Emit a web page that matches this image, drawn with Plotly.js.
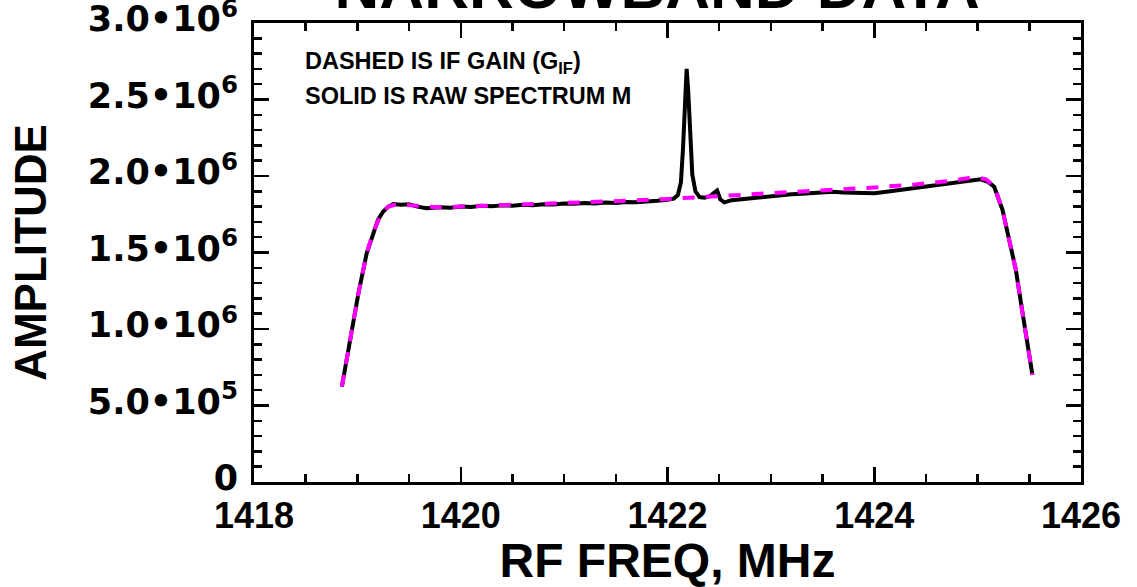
<!DOCTYPE html>
<html>
<head>
<meta charset="utf-8">
<script src="https://cdn.plot.ly/plotly-3.0.1.min.js"></script>
<style>html,body{margin:0;padding:0;background:#fff;}#chart{width:1137px;height:587px;}</style>
</head>
<body>
<div id="chart"></div>
<script>
// Raw spectrum M (solid black)
const freqM = [1418.85, 1418.93, 1419.01, 1419.09, 1419.15, 1419.20, 1419.25, 1419.30, 1419.35, 1419.42,
  1419.50, 1419.58, 1419.67, 1419.80, 1419.90, 1420.00, 1420.10, 1420.20, 1420.30, 1420.40, 1420.50,
  1420.60, 1420.70, 1420.80, 1420.90, 1421.00, 1421.10, 1421.20, 1421.30, 1421.40, 1421.50, 1421.60,
  1421.70, 1421.80, 1421.90, 1422.00, 1422.06, 1422.10, 1422.13, 1422.15, 1422.17, 1422.185, 1422.20,
  1422.22, 1422.24, 1422.27, 1422.31, 1422.36, 1422.41, 1422.45, 1422.48, 1422.51, 1422.55, 1422.62,
  1422.70, 1422.80, 1422.90, 1423.00, 1423.10, 1423.20, 1423.30, 1423.40, 1423.50, 1423.60, 1423.70,
  1423.80, 1423.90, 1424.00, 1424.10, 1424.20, 1424.30, 1424.40, 1424.50, 1424.60, 1424.70, 1424.80,
  1424.90, 1424.96, 1425.03, 1425.10, 1425.16, 1425.24, 1425.30, 1425.37, 1425.43, 1425.53];
const rawM = [623000, 928000, 1233000, 1495000, 1625000, 1715000, 1768000, 1800000, 1817000, 1812000,
  1815000, 1800000, 1790000, 1795000, 1792000, 1800000, 1797000, 1805000, 1803000, 1808000, 1806000,
  1812000, 1809000, 1816000, 1814000, 1820000, 1818000, 1824000, 1821000, 1826000, 1823000, 1830000,
  1828000, 1836000, 1838000, 1845000, 1852000, 1875000, 1960000, 2180000, 2520000, 2700000, 2560000,
  2230000, 2010000, 1900000, 1862000, 1858000, 1868000, 1890000, 1905000, 1848000, 1828000, 1842000,
  1848000, 1856000, 1862000, 1870000, 1874000, 1880000, 1884000, 1888000, 1893000, 1897000, 1892000,
  1889000, 1887000, 1888000, 1896000, 1905000, 1912000, 1920000, 1930000, 1940000, 1950000, 1958000,
  1968000, 1972000, 1978000, 1962000, 1930000, 1780000, 1600000, 1386000, 1124000, 700000];

// IF gain G_IF (dashed magenta)
const freqG = [1418.85, 1418.93, 1419.01, 1419.09, 1419.15, 1419.23, 1419.30, 1419.38, 1419.50, 1419.65,
  1419.80, 1420.00, 1420.40, 1420.80, 1421.20, 1421.60, 1422.00, 1422.40, 1422.80, 1423.20, 1423.60,
  1424.00, 1424.40, 1424.70, 1424.90, 1425.00, 1425.08, 1425.16, 1425.24, 1425.30, 1425.37, 1425.43, 1425.53];
const gainG = [623000, 928000, 1233000, 1495000, 1625000, 1756000, 1800000, 1815000, 1808000, 1798000,
  1795000, 1800000, 1808000, 1818000, 1828000, 1838000, 1850000, 1864000, 1880000, 1895000, 1910000,
  1925000, 1945000, 1965000, 1985000, 1990000, 1978000, 1935000, 1780000, 1600000, 1386000, 1124000, 700000];

const yTickVals = [0, 500000, 1000000, 1500000, 2000000, 2500000, 3000000];
const yTickText = ["0", "5.0•10<sup>5</sup>", "1.0•10<sup>6</sup>", "1.5•10<sup>6</sup>",
  "2.0•10<sup>6</sup>", "2.5•10<sup>6</sup>", "3.0•10<sup>6</sup>"];
const xTickVals = [1418, 1420, 1422, 1424, 1426];
const xTickText = ["1418", "1420", "1422", "1424", "1426"];

const FONT = "'Liberation Sans', Arial, Helvetica, sans-serif";

const traces = [
  {x: freqM, y: rawM, type: 'scatter', mode: 'lines', line: {color: '#000000', width: 4}, hoverinfo: 'skip'},
  {x: freqG, y: gainG, type: 'scatter', mode: 'lines', line: {color: '#ff00ff', width: 4, dash: '12px,11px'}, hoverinfo: 'skip'}
];

const layout = {
  width: 1137, height: 587,
  margin: {l: 254, r: 56, t: 23, b: 105},
  paper_bgcolor: '#ffffff', plot_bgcolor: '#ffffff',
  showlegend: false,
  font: {family: FONT, color: '#000', weight: 'bold'},
  title: {text: 'NARROWBAND DATA', font: {family: FONT, size: 62, weight: 'bold', color: '#000'},
    x: 0.578, xanchor: 'center', yref: 'container', y: 0.986, yanchor: 'bottom'},
  xaxis: {
    range: [1418, 1426], tickmode: 'array', tickvals: xTickVals, ticktext: xTickText,
    ticks: 'inside', ticklen: 15, tickwidth: 2.5, tickcolor: '#000',
    minor: {dtick: 0.5, ticks: 'inside', ticklen: 8, tickwidth: 2.5, tickcolor: '#000', showgrid: false},
    showline: true, linewidth: 3, linecolor: '#000', mirror: 'allticks',
    showgrid: false, zeroline: false,
    tickfont: {family: FONT, size: 36, weight: 'bold', color: '#000'},
    ticklabelstandoff: 0, ticklabeloverflow: 'allow',
    title: {text: 'RF FREQ, MHz', font: {family: FONT, size: 48, weight: 'bold', color: '#000'}, standoff: 5}
  },
  yaxis: {
    range: [0, 3000000], tickmode: 'array', tickvals: yTickVals, ticktext: yTickText,
    ticks: 'inside', ticklen: 15, tickwidth: 2.5, tickcolor: '#000',
    minor: {dtick: 100000, ticks: 'inside', ticklen: 8, tickwidth: 2.5, tickcolor: '#000', showgrid: false},
    showline: true, linewidth: 3, linecolor: '#000', mirror: 'allticks',
    showgrid: false, zeroline: false,
    tickfont: {family: "'DejaVu Sans', " + FONT, size: 35, weight: 'bold', color: '#000'},
    ticklabelstandoff: 6, ticklabelshift: -4, ticklabeloverflow: 'allow',
    title: {text: 'AMPLITUDE', font: {family: FONT, size: 44, weight: 'bold', color: '#000'}, standoff: 28}
  },
  annotations: [
    {text: 'DASHED IS IF GAIN (G<sub>IF</sub>)', xref: 'paper', yref: 'paper', x: 0.059, y: 0.913,
      xanchor: 'left', yanchor: 'middle', showarrow: false, font: {family: FONT, size: 23.5, weight: 'bold', color: '#000'}},
    {text: 'SOLID IS RAW SPECTRUM M', xref: 'paper', yref: 'paper', x: 0.059, y: 0.84,
      xanchor: 'left', yanchor: 'middle', showarrow: false, font: {family: FONT, size: 23.5, weight: 'bold', color: '#000'}}
  ]
};

Plotly.newPlot('chart', traces, layout, {staticPlot: true, displayModeBar: false});
</script>
</body>
</html>
